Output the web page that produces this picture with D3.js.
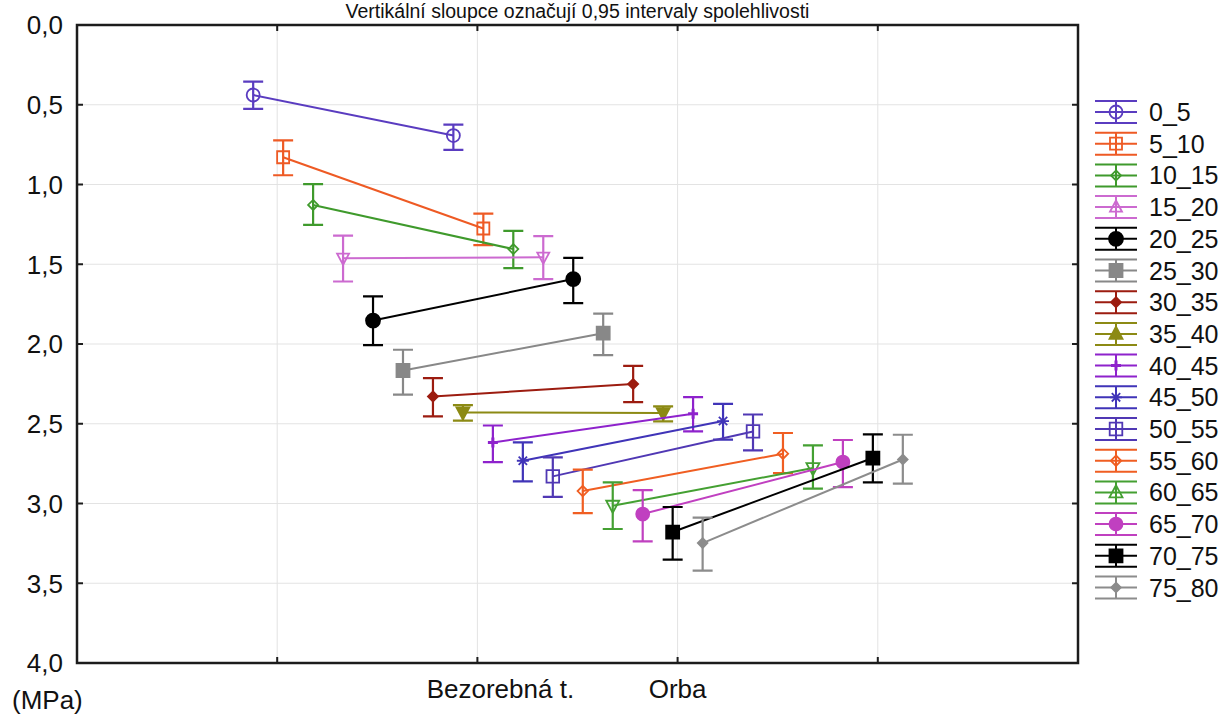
<!DOCTYPE html>
<html>
<head>
<meta charset="utf-8">
<script src="https://cdn.jsdelivr.net/npm/d3@7/dist/d3.min.js"></script>
<style>
  body { margin: 0; background: #fff; }
  text { font-family: Arial, "Liberation Sans", sans-serif; fill: #111; }
</style>
</head>
<body>
<div id="chart"></div>
<script>
var series = ["0_5", "5_10", "10_15", "15_20", "20_25", "25_30", "30_35", "35_40",
              "40_45", "45_50", "50_55", "55_60", "60_65", "65_70", "70_75", "75_80"];
var treatments = ["Bezorebná t.", "Orba"];

// means and 0.95 confidence limits (MPa)
var bezMean = [0.439, 0.829, 1.128, 1.462, 1.853, 2.166, 2.329, 2.429, 2.617, 2.732, 2.830, 2.922, 3.014, 3.066, 3.179, 3.248];
var bezLow  = [0.355, 0.723, 0.998, 1.320, 1.702, 2.036, 2.214, 2.383, 2.511, 2.617, 2.711, 2.788, 2.868, 2.916, 3.022, 3.089];
var bezHigh = [0.526, 0.942, 1.253, 1.608, 2.007, 2.318, 2.454, 2.481, 2.740, 2.861, 2.959, 3.060, 3.160, 3.237, 3.352, 3.421];
var orbaMean = [0.693, 1.276, 1.405, 1.456, 1.593, 1.932, 2.251, 2.433, 2.437, 2.483, 2.548, 2.688, 2.778, 2.740, 2.715, 2.724];
var orbaLow  = [0.625, 1.182, 1.291, 1.324, 1.460, 1.809, 2.137, 2.391, 2.333, 2.375, 2.442, 2.558, 2.636, 2.602, 2.567, 2.569];
var orbaHigh = [0.783, 1.380, 1.524, 1.593, 1.744, 2.070, 2.364, 2.485, 2.548, 2.600, 2.667, 2.809, 2.907, 2.897, 2.868, 2.876];

var yTicks = [0, 0.5, 1, 1.5, 2, 2.5, 3, 3.5, 4];
var xGrid = [1, 2, 3, 4];

// styles
var colors = ["#5a3cc0", "#ee5a24", "#3f9a2c", "#cc6ad0", "#000000", "#888888", "#9c1c10", "#8c8a14",
              "#8e22cc", "#4034b8", "#5038b4", "#f05e22", "#44a032", "#c040c0", "#000000", "#8c8c8c"];
var shapes = ["circle", "square", "diamond", "tri", "circle", "square", "diamond", "tri",
              "plus", "star", "square", "diamond", "tri", "circle", "square", "diamond"];
var filled = [false, false, false, false, true, true, true, true,
              true, true, false, false, false, true, true, true];
var msize  = [6.5, 6, 5, 6, 7, 6.5, 5, 6.5, 5, 6, 6.3, 5.2, 6.5, 6.5, 6.5, 4.8];

var width = 1228, height = 715;
var svg = d3.select("#chart").append("svg")
    .attr("width", width).attr("height", height);

var x = d3.scaleLinear().domain([0, 5]).range([77, 1078]);
var y = d3.scaleLinear().domain([0, 4]).range([25, 663]);
var shift = d3.scalePoint().domain(series).range([-0.12, 2.125]);

function marker(shape, r, down) {
  var s = down ? -1 : 1;
  if (shape == "circle") return d3.symbol(d3.symbolCircle, Math.PI * r * r)();
  if (shape == "square") return "M" + -r + "," + -r + "H" + r + "V" + r + "H" + -r + "Z";
  if (shape == "diamond") return "M0," + -r + "L" + r + ",0L0," + r + "L" + -r + ",0Z";
  if (shape == "tri") {
    var h = r * 1.1;
    return "M0," + (-h * s) + "L" + r + "," + (h * 0.7 * s) + "L" + -r + "," + (h * 0.7 * s) + "Z";
  }
  if (shape == "plus") return "M" + -r + ",0H" + r + "M0," + -r + "V" + r;
  if (shape == "star") {
    var k = r * 0.7;
    return "M" + -r + ",0H" + r + "M0," + -r + "V" + r +
           "M" + -k + "," + -k + "L" + k + "," + k + "M" + -k + "," + k + "L" + k + "," + -k;
  }
}

// grid
svg.append("g").selectAll("line").data(yTicks.slice(1, -1)).enter().append("line")
  .attr("x1", x(0)).attr("x2", x(5))
  .attr("y1", function(d) { return y(d); }).attr("y2", function(d) { return y(d); })
  .attr("stroke", "#e3e3e3").attr("stroke-width", 1);
svg.append("g").selectAll("line").data(xGrid).enter().append("line")
  .attr("y1", y(0)).attr("y2", y(4))
  .attr("x1", function(d) { return x(d); }).attr("x2", function(d) { return x(d); })
  .attr("stroke", "#e3e3e3").attr("stroke-width", 1);

// series
series.forEach(function(name, i) {
  var c = colors[i];
  var g = svg.append("g");
  var pts = [
    {x: 1 + shift(name), m: bezMean[i], lo: bezLow[i], hi: bezHigh[i]},
    {x: 2 + shift(name), m: orbaMean[i], lo: orbaLow[i], hi: orbaHigh[i]}
  ];
  g.append("path")
    .attr("d", d3.line().x(function(d) { return x(d.x); }).y(function(d) { return y(d.m); })(pts))
    .attr("fill", "none").attr("stroke", c).attr("stroke-width", 2);
  pts.forEach(function(p) {
    var px = x(p.x);
    g.append("path")
      .attr("d", "M" + px + "," + y(p.lo) + "V" + y(p.hi) +
                 "M" + (px - 10) + "," + y(p.lo) + "H" + (px + 10) +
                 "M" + (px - 10) + "," + y(p.hi) + "H" + (px + 10))
      .attr("fill", "none").attr("stroke", c).attr("stroke-width", 2.2);
    g.append("path")
      .attr("d", marker(shapes[i], msize[i], true))
      .attr("transform", "translate(" + px + "," + y(p.m) + ")")
      .attr("fill", filled[i] && shapes[i] != "plus" && shapes[i] != "star" ? c : "none")
      .attr("stroke", c)
      .attr("stroke-width", shapes[i] == "plus" ? 3 : 1.8);
  });
});

// frame and ticks
svg.append("rect")
  .attr("x", x(0)).attr("y", y(0))
  .attr("width", x(5) - x(0)).attr("height", y(4) - y(0))
  .attr("fill", "none").attr("stroke", "#1c1c1c").attr("stroke-width", 2.5);

svg.append("g").selectAll("path").data(xGrid).enter().append("path")
  .attr("d", function(d) { return "M" + x(d) + "," + y(4) + "v-6M" + x(d) + "," + y(0) + "v6"; })
  .attr("stroke", "#1c1c1c").attr("stroke-width", 2);
svg.append("g").selectAll("path").data(yTicks.slice(1, -1)).enter().append("path")
  .attr("d", function(d) { return "M" + x(5) + "," + y(d) + "h-6M" + x(0) + "," + y(d) + "h6"; })
  .attr("stroke", "#1c1c1c").attr("stroke-width", 2);

// y labels
var fmt = d3.format(".1f");
svg.append("g").selectAll("text").data(yTicks).enter().append("text")
  .attr("x", 63).attr("y", function(d) { return y(d); })
  .attr("dy", "0.36em")
  .attr("text-anchor", "end")
  .style("font-size", "26px")
  .text(function(d) { return fmt(d).replace(".", ","); });

// category labels
svg.append("g").selectAll("text").data(treatments).enter().append("text")
  .attr("x", function(d, i) { return x(i + 2) + (i == 0 ? 23 : 0); })
  .attr("y", 698)
  .attr("text-anchor", "middle")
  .style("font-size", "26px")
  .text(function(d) { return d; });

svg.append("text")
  .attr("x", 12).attr("y", 709)
  .style("font-size", "26px")
  .text("(MPa)");

svg.append("text")
  .attr("x", (x(0) + x(5)) / 2).attr("y", 18)
  .attr("text-anchor", "middle")
  .style("font-size", "19.5px")
  .text("Vertikální sloupce označují 0,95 intervaly spolehlivosti");

// legend
var ly = d3.scalePoint().domain(series).range([112, 587.5]);
var legend = svg.append("g").selectAll("g").data(series).enter().append("g")
  .attr("transform", function(d) { return "translate(1116," + ly(d) + ")"; });

legend.append("path")
  .attr("d", "M-21,-11H21M-21,0H21M-21,11H21M0,-11V11")
  .attr("fill", "none")
  .attr("stroke", function(d, i) { return colors[i]; })
  .attr("stroke-width", 2);

legend.append("path")
  .attr("d", function(d, i) { return marker(shapes[i], msize[i], false); })
  .attr("fill", function(d, i) { return filled[i] && shapes[i] != "plus" && shapes[i] != "star" ? colors[i] : "none"; })
  .attr("stroke", function(d, i) { return colors[i]; })
  .attr("stroke-width", function(d, i) { return shapes[i] == "plus" ? 3 : 1.8; });

legend.append("text")
  .attr("x", 33).attr("dy", "0.36em")
  .style("font-size", "25px")
  .text(function(d) { return d; });
</script>
</body>
</html>
